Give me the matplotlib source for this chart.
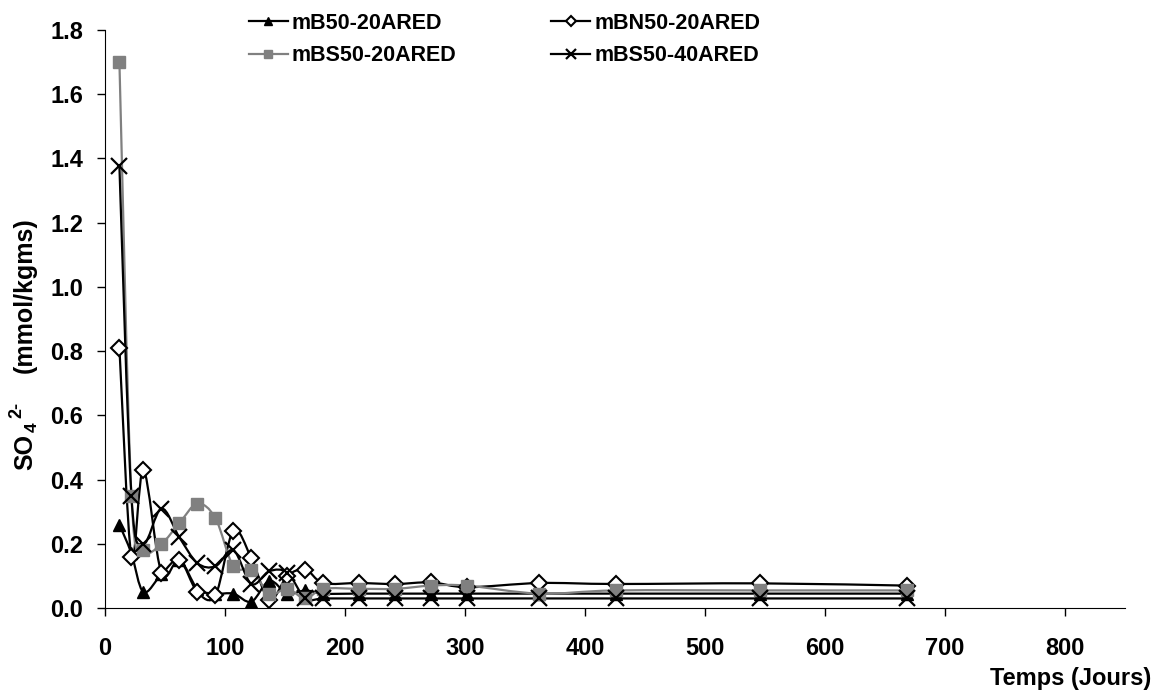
import numpy as np
import matplotlib as mpl
mpl.use('Agg')
import matplotlib.pyplot as plt
from matplotlib.path import Path
from matplotlib.patches import PathPatch
from matplotlib.lines import Line2D

plt.rcParams['font.family'] = ['Liberation Sans', 'DejaVu Sans']
plt.rcParams['font.weight'] = 'bold'

W, H = 1163, 691

# sampling days
t = [12, 22, 32, 47, 62, 77, 92, 107, 122, 137, 152, 167, 182, 212, 242, 272, 302, 362, 426, 546, 668]

mB50_20 = [0.26, 0.17, 0.05, 0.105, 0.15, 0.06, 0.045, 0.045, 0.02, 0.085, 0.045, 0.055, 0.045,
           0.045, 0.045, 0.045, 0.045, 0.045, 0.045, 0.045, 0.045]
mBN50_20 = [0.81, 0.16, 0.43, 0.11, 0.15, 0.05, 0.04, 0.24, 0.155, 0.025, 0.10, 0.12, 0.078,
            0.078, 0.075, 0.08, 0.065, 0.078, 0.075, 0.077, 0.07]
mBS50_20 = [1.70, 0.35, 0.18, 0.20, 0.265, 0.325, 0.28, 0.13, 0.12, 0.045, 0.06, 0.03, 0.06,
            0.06, 0.06, 0.07, 0.07, 0.045, 0.055, 0.055, 0.055]
mBS50_40 = [1.375, 0.35, 0.20, 0.31, 0.22, 0.14, 0.13, 0.18, 0.075, 0.115, 0.11, 0.03, 0.03,
            0.03, 0.03, 0.03, 0.03, 0.03, 0.03, 0.03, 0.03]

labels = ['mB50-20ARED', 'mBN50-20ARED', 'mBS50-20ARED', 'mBS50-40ARED']


def smooth_path(x, y):
    # Catmull-Rom style bezier through the points (like spreadsheet smoothed lines)
    p = np.column_stack([x, y]).astype(float)
    verts = [p[0]]
    codes = [Path.MOVETO]
    n = len(p)
    for i in range(n - 1):
        p0 = p[i - 1] if i > 0 else p[i]
        p1 = p[i]
        p2 = p[i + 1]
        p3 = p[i + 2] if i + 2 < n else p[i + 1]
        c1 = p1 + (p2 - p0) / 6.0
        c2 = p2 - (p3 - p1) / 6.0
        verts += [c1, c2, p2]
        codes += [Path.CURVE4] * 3
    return Path(verts, codes)


def ftext(fig, px, py, s, size, **kw):
    # place text by pixel position (from top-left)
    fig.text(px / W, 1 - py / H, s, fontsize=size, fontweight='bold', **kw)


def main():
    fig = plt.figure(figsize=(W / 100, H / 100), dpi=100)
    ax = fig.add_axes([0.0903, 0.12, 0.877, 0.8366])

    styles = [
        (mB50_20, dict(color='black', marker='^', mfc='black', mec='black', ms=9)),
        (mBN50_20, dict(color='black', marker='D', mfc='white', mec='black', ms=8, mew=1.5)),
        (mBS50_20, dict(color='#808080', marker='s', mfc='#808080', mec='#808080', ms=9)),
        (mBS50_40, dict(color='black', marker='x', mfc='black', mec='black', ms=11, mew=1.6)),
    ]

    handles = []
    for (vals, st), lab in zip(styles, labels):
        ax.add_patch(PathPatch(smooth_path(t, vals), fill=False, edgecolor=st['color'], lw=1.6))
        ax.plot(t, vals, linestyle='none', marker=st['marker'], mfc=st['mfc'], mec=st['mec'],
                ms=st['ms'], mew=st.get('mew', 1.0))
        handles.append(Line2D([], [], color=st['color'], lw=1.6, marker=st['marker'], mfc=st['mfc'],
                              mec=st['mec'], ms=st['ms'] * 0.7, mew=st.get('mew', 1.0)))

    ax.set_xlim(0, 850)
    ax.set_ylim(0, 1.8)
    ax.set_xticks(np.arange(0, 801, 100))
    ax.set_yticks(np.arange(0, 1.81, 0.2))
    ax.yaxis.set_major_formatter(mpl.ticker.FormatStrFormatter('%.1f'))
    ax.tick_params(direction='out', length=5.5, width=1, labelsize=17)
    ax.tick_params(axis='y', pad=10)
    ax.tick_params(axis='x', pad=15)
    for lbl in ax.get_xticklabels() + ax.get_yticklabels():
        lbl.set_fontweight('bold')
    ax.spines['top'].set_visible(False)
    ax.spines['right'].set_visible(False)

    # y label: SO4 2- (mmol/kgms), built from pieces like the spreadsheet label
    rot = dict(rotation=90, ha='center', va='center')
    ftext(fig, 25, 452, 'SO', 18, **rot)
    ftext(fig, 32, 427, '4', 12.5, **rot)
    ftext(fig, 17, 410, '2-', 13, **rot)
    ftext(fig, 25, 295, '(mmol/kgms)', 18, **rot)

    ftext(fig, 1151, 678, 'Temps (Jours)', 17, ha='right', va='center')

    order = [0, 2, 1, 3]
    fig.legend([handles[i] for i in order], [labels[i] for i in order], ncol=2, frameon=False,
               loc='upper left', bbox_to_anchor=(238 / W, 1 - 2 / H), handlelength=1.8,
               columnspacing=4.4, handletextpad=0.2, labelspacing=0.54, borderpad=0,
               prop={'weight': 'bold', 'size': 15.5})

    plt.savefig('out.png', dpi=100)
    plt.close()


if __name__ == '__main__':
    main()
